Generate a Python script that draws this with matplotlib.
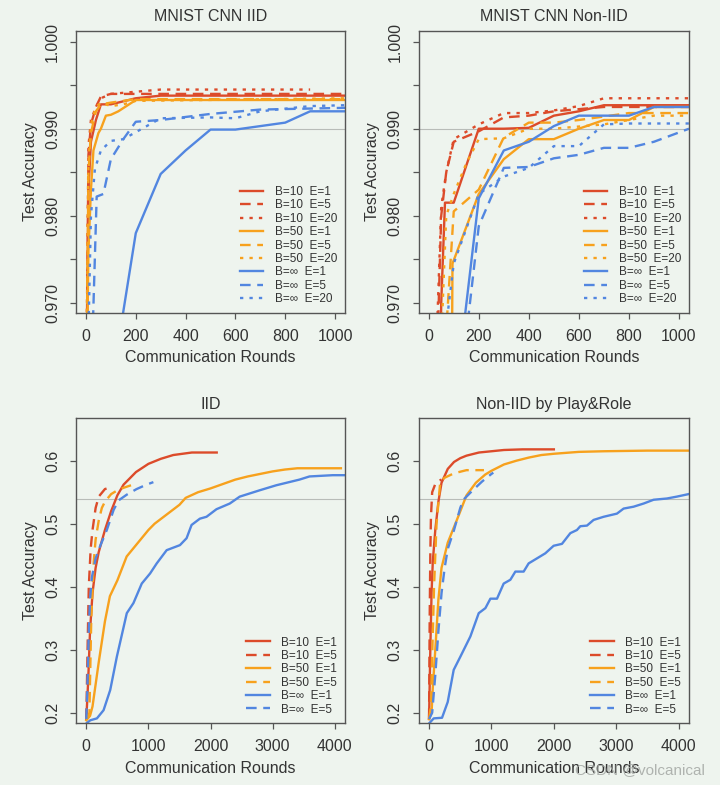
import matplotlib.pyplot as plt

plt.rcParams['font.family'] = ['Liberation Sans', 'DejaVu Sans']

# ---- MNIST CNN IID (top left) ----
a_b10e1_x = [0, 10, 20, 40, 60, 100, 200, 300, 1040]
a_b10e1_y = [0.955, 0.983, 0.9885, 0.991, 0.9928, 0.9928, 0.9935, 0.9938, 0.9938]
a_b10e5_x = [0, 10, 20, 40, 60, 100, 200, 300, 1040]
a_b10e5_y = [0.955, 0.987, 0.9905, 0.9925, 0.9937, 0.994, 0.994, 0.994, 0.994]
a_b10e20_x = [0, 10, 20, 40, 60, 100, 300, 900]
a_b10e20_y = [0.957, 0.988, 0.991, 0.9925, 0.9935, 0.994, 0.9945, 0.9945]
a_b50e1_x = [0, 10, 20, 30, 50, 60, 80, 100, 130, 200, 1040]
a_b50e1_y = [0.955, 0.976, 0.983, 0.9875, 0.9895, 0.990, 0.9915, 0.9916, 0.992, 0.9933, 0.9933]
a_b50e5_x = [0, 10, 20, 40, 60, 100, 200, 1040]
a_b50e5_y = [0.956, 0.985, 0.9895, 0.992, 0.9928, 0.993, 0.9934, 0.9934]
a_b50e20_x = [0, 10, 20, 40, 60, 100, 150, 200, 1040]
a_b50e20_y = [0.957, 0.986, 0.9905, 0.9925, 0.993, 0.9926, 0.9928, 0.9932, 0.9935]
a_binfe1_x = [100, 200, 300, 400, 500, 600, 800, 900, 1040]
a_binfe1_y = [0.960, 0.978, 0.9848, 0.9875, 0.9899, 0.9899, 0.9907, 0.992, 0.992]
a_binfe5_x = [20, 43, 70, 100, 150, 200, 300, 500, 700, 1040]
a_binfe5_y = [0.960, 0.9822, 0.9825, 0.9865, 0.9888, 0.9908, 0.991, 0.9917, 0.9922, 0.9924]
a_binfe20_x = [5, 20, 36, 60, 100, 150, 200, 300, 500, 600, 700, 900, 1040]
a_binfe20_y = [0.960, 0.980, 0.9854, 0.9875, 0.9886, 0.9888, 0.9896, 0.9912, 0.9913, 0.9912, 0.992, 0.9926, 0.9927]

# ---- MNIST CNN Non-IID (top right) ----
b_b10e1_x = [45, 50, 65, 100, 200, 300, 400, 500, 600, 700, 1040]
b_b10e1_y = [0.960, 0.970, 0.9815, 0.9815, 0.990, 0.990, 0.9901, 0.9915, 0.992, 0.9927, 0.9927]
b_b10e5_x = [30, 50, 70, 100, 200, 300, 400, 500, 700, 1040]
b_b10e5_y = [0.960, 0.980, 0.985, 0.9885, 0.9897, 0.9913, 0.9915, 0.992, 0.9925, 0.9925]
b_b10e20_x = [25, 50, 70, 100, 200, 300, 400, 500, 600, 700, 1040]
b_b10e20_y = [0.960, 0.981, 0.985, 0.9888, 0.9905, 0.9918, 0.9918, 0.9921, 0.9926, 0.9935, 0.9935]
b_b50e1_x = [92, 95, 200, 300, 400, 500, 600, 700, 800, 900, 1040]
b_b50e1_y = [0.960, 0.9745, 0.9825, 0.9865, 0.9888, 0.9888, 0.990, 0.991, 0.991, 0.9925, 0.9925]
b_b50e5_x = [55, 100, 200, 300, 400, 500, 600, 800, 1040]
b_b50e5_y = [0.960, 0.9805, 0.983, 0.989, 0.9907, 0.9907, 0.991, 0.9918, 0.9918]
b_b50e20_x = [45, 70, 100, 150, 200, 300, 400, 500, 700, 900, 1040]
b_b50e20_y = [0.962, 0.980, 0.9825, 0.986, 0.9888, 0.9889, 0.990, 0.990, 0.9905, 0.9915, 0.9915]
b_binfe1_x = [110, 200, 300, 400, 500, 600, 700, 800, 900, 1040]
b_binfe1_y = [0.960, 0.982, 0.9875, 0.9885, 0.9903, 0.9915, 0.9915, 0.9915, 0.9925, 0.9925]
b_binfe5_x = [125, 200, 300, 400, 500, 600, 700, 800, 900, 1040]
b_binfe5_y = [0.960, 0.9788, 0.9855, 0.9856, 0.9866, 0.987, 0.9878, 0.9878, 0.9885, 0.990]
b_binfe20_x = [60, 100, 200, 300, 400, 500, 600, 700, 800, 1040]
b_binfe20_y = [0.965, 0.9745, 0.9825, 0.9845, 0.9855, 0.988, 0.988, 0.9905, 0.9906, 0.9906]

# ---- IID (bottom left) ----
c_b10e1_x = [0, 30, 60, 100, 150, 200, 300, 400, 500, 600, 800, 1000, 1200, 1400, 1700, 2100]
c_b10e1_y = [0.19, 0.25, 0.33, 0.39, 0.43, 0.455, 0.49, 0.52, 0.545, 0.562, 0.582, 0.595, 0.603, 0.609, 0.613, 0.613]
c_b10e5_x = [0, 20, 40, 70, 100, 150, 200, 300, 400]
c_b10e5_y = [0.19, 0.30, 0.40, 0.46, 0.49, 0.525, 0.543, 0.555, 0.558]
c_b50e1_x = [0, 60, 100, 150, 200, 300, 380, 500, 650, 850, 1000, 1100, 1300, 1500, 1600, 1800, 2000,
             2200, 2400, 2600, 2800, 3000, 3200, 3400, 3600, 4100]
c_b50e1_y = [0.188, 0.195, 0.21, 0.245, 0.28, 0.345, 0.385, 0.41, 0.448, 0.472, 0.49, 0.50, 0.515, 0.53,
             0.541, 0.55, 0.556, 0.563, 0.57, 0.575, 0.579, 0.583, 0.586, 0.588, 0.588, 0.588]
c_b50e5_x = [0, 50, 80, 120, 150, 200, 250, 300, 400, 500, 600, 720]
c_b50e5_y = [0.19, 0.20, 0.35, 0.44, 0.475, 0.505, 0.525, 0.535, 0.547, 0.553, 0.557, 0.561]
c_binfe1_x = [0, 64, 171, 278, 385, 492, 652, 759, 893, 1027, 1134, 1294, 1508, 1615, 1695, 1829, 1936,
              2096, 2310, 2471, 2791, 3059, 3433, 3594, 3968, 4160]
c_binfe1_y = [0.183, 0.188, 0.191, 0.204, 0.236, 0.289, 0.358, 0.374, 0.405, 0.421, 0.437, 0.458, 0.466,
              0.477, 0.498, 0.508, 0.511, 0.523, 0.532, 0.543, 0.553, 0.561, 0.57, 0.575, 0.577, 0.577]
c_binfe5_x = [0, 20, 40, 60, 90, 150, 225, 330, 440, 520, 650, 810, 970, 1080]
c_binfe5_y = [0.19, 0.25, 0.33, 0.38, 0.415, 0.445, 0.465, 0.49, 0.522, 0.537, 0.546, 0.555, 0.562, 0.566]

# ---- Non-IID by Play&Role (bottom right) ----
d_b10e1_x = [0, 20, 40, 60, 100, 150, 200, 300, 400, 500, 600, 800, 1000, 1200, 1500, 2000]
d_b10e1_y = [0.19, 0.30, 0.39, 0.44, 0.49, 0.535, 0.565, 0.587, 0.598, 0.604, 0.608, 0.613, 0.615, 0.617,
             0.618, 0.618]
d_b10e5_x = [0, 10, 20, 30, 50, 100, 150, 200]
d_b10e5_y = [0.19, 0.35, 0.45, 0.51, 0.55, 0.563, 0.568, 0.57]
d_b50e1_x = [0, 40, 60, 100, 150, 200, 300, 450, 600, 750, 900, 1000, 1200, 1400, 1600, 1800, 2000, 2400,
             2800, 3500, 4160]
d_b50e1_y = [0.19, 0.20, 0.24, 0.30, 0.38, 0.43, 0.47, 0.507, 0.545, 0.565, 0.578, 0.584, 0.594, 0.60,
             0.605, 0.609, 0.611, 0.614, 0.615, 0.616, 0.616]
d_b50e5_x = [0, 30, 50, 80, 120, 180, 250, 400, 600, 880]
d_b50e5_y = [0.19, 0.21, 0.29, 0.40, 0.50, 0.567, 0.573, 0.58, 0.585, 0.585]
d_binfe1_x = [0, 75, 208, 299, 395, 502, 662, 796, 903, 983, 1089, 1196, 1303, 1383, 1516, 1596, 1730,
              1863, 1997, 2130, 2264, 2370, 2424, 2531, 2637, 2798, 3011, 3118, 3278, 3438, 3598, 3812,
              3972, 4160]
d_binfe1_y = [0.183, 0.191, 0.192, 0.217, 0.268, 0.289, 0.321, 0.358, 0.366, 0.381, 0.381, 0.405, 0.411,
              0.424, 0.424, 0.437, 0.445, 0.453, 0.465, 0.468, 0.485, 0.49, 0.496, 0.497, 0.506, 0.511,
              0.516, 0.524, 0.527, 0.532, 0.538, 0.54, 0.543, 0.547]
d_binfe5_x = [0, 50, 100, 150, 200, 250, 300, 400, 500, 550, 700, 850, 1000, 1030]
d_binfe5_y = [0.19, 0.20, 0.26, 0.33, 0.39, 0.43, 0.46, 0.49, 0.525, 0.538, 0.553, 0.567, 0.579, 0.581]

red = '#dc4b2a'
orange = '#f7a11d'
blue = '#5286e0'
bg = '#eef4ee'
dark = '#333333'
solid = '-'
dashed = (0, (4.5, 2.8))
dotted = (0, (1.4, 2.6))

top_series = [
    ('b10e1', red, solid, 'B=10  E=1'),
    ('b10e5', red, dashed, 'B=10  E=5'),
    ('b10e20', red, dotted, 'B=10  E=20'),
    ('b50e1', orange, solid, 'B=50  E=1'),
    ('b50e5', orange, dashed, 'B=50  E=5'),
    ('b50e20', orange, dotted, 'B=50  E=20'),
    ('binfe1', blue, solid, 'B=\u221e  E=1'),
    ('binfe5', blue, dashed, 'B=\u221e  E=5'),
    ('binfe20', blue, dotted, 'B=\u221e  E=20'),
]
bottom_series = [
    ('b10e1', red, solid, 'B=10  E=1'),
    ('b10e5', red, dashed, 'B=10  E=5'),
    ('b50e1', orange, solid, 'B=50  E=1'),
    ('b50e5', orange, dashed, 'B=50  E=5'),
    ('binfe1', blue, solid, 'B=\u221e  E=1'),
    ('binfe5', blue, dashed, 'B=\u221e  E=5'),
]

fig = plt.figure(figsize=(7.2, 7.85), dpi=100, facecolor=bg)
W, H = 720, 785


def make_ax(left, right, top, bottom):
    ax = fig.add_axes([left / W, 1 - bottom / H, (right - left) / W, (bottom - top) / H])
    ax.set_facecolor(bg)
    for s in ax.spines.values():
        s.set_color('#555555')
        s.set_linewidth(1.0)
    ax.tick_params(which='both', direction='out', length=4.5, width=0.9, color='#555555',
                   labelcolor=dark, labelsize=11.5)
    ax.tick_params(axis='x', pad=7)
    ax.tick_params(axis='y', pad=7)
    return ax


def style(ax, title, top):
    ax.set_title(title, fontsize=11.5, color=dark, pad=7)
    ax.set_xlabel('Communication Rounds', fontsize=11.5, color=dark)
    ax.set_ylabel('Test Accuracy', fontsize=11.5, color=dark)
    ax.yaxis.set_label_coords(-0.143, 0.5)
    ax.xaxis.set_label_coords(0.5, -0.13 if top else -0.122)
    for lab in ax.get_yticklabels():
        lab.set_rotation(90)
        lab.set_va('center')
    ax.legend(loc='lower right', bbox_to_anchor=(1.0, 0.0), frameon=False, fontsize=8.5,
              handlelength=2.0, handletextpad=1.0, labelspacing=0.12, borderaxespad=0.25,
              labelcolor=dark)


g = globals()
panels = [
    ('a', 'MNIST CNN IID', 76, 345, 31, 313),
    ('b', 'MNIST CNN Non-IID', 418.7, 689, 31, 313),
]
for key, title, l, r, t, b in panels:
    ax = make_ax(l, r, t, b)
    ax.axhline(0.99, color='#b8bcb8', lw=0.8, zorder=1)
    for name, c, ls, lab in top_series:
        ax.plot(g[key + '_' + name + '_x'], g[key + '_' + name + '_y'], color=c, ls=ls, lw=1.7,
                label=lab)
    ax.set_xlim(-40, 1040)
    ax.set_ylim(0.96882, 1.00123)
    ax.set_xticks([0, 200, 400, 600, 800, 1000])
    ax.set_yticks([0.97, 0.98, 0.99, 1.0])
    ax.set_yticklabels(['0.970', '0.980', '0.990', '1.000'])
    ax.set_yticks([0.975, 0.985, 0.995], minor=True)
    style(ax, title, True)

panels = [
    ('c', 'IID', 76, 345, 418.3, 723.3),
    ('d', 'Non-IID by Play&Role', 418.7, 689, 418.3, 723.3),
]
for key, title, l, r, t, b in panels:
    ax = make_ax(l, r, t, b)
    ax.axhline(0.54, color='#b8bcb8', lw=0.8, zorder=1)
    for name, c, ls, lab in bottom_series:
        ax.plot(g[key + '_' + name + '_x'], g[key + '_' + name + '_y'], color=c, ls=ls, lw=1.7,
                label=lab)
    ax.set_xlim(-166, 4166)
    ax.set_ylim(0.1832, 0.6673)
    ax.set_xticks([0, 1000, 2000, 3000, 4000])
    ax.set_yticks([0.2, 0.3, 0.4, 0.5, 0.6])
    ax.set_yticklabels(['0.2', '0.3', '0.4', '0.5', '0.6'])
    style(ax, title, False)

# watermark from the source image (it overlaps the axis label there too)
fig.text(705 / W, 1 - 770 / H, 'CSDN @volcanical', ha='right', va='center', fontsize=11,
         color='#a8aca8', alpha=0.9)

fig.savefig('out.png', dpi=100, facecolor=bg)
